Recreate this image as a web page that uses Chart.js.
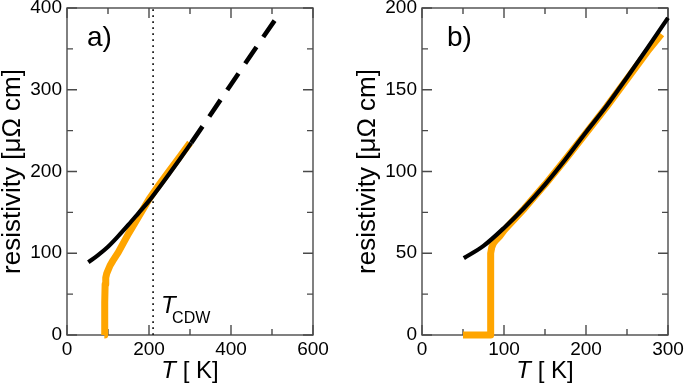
<!DOCTYPE html>
<html><head><meta charset="utf-8">
<script src="https://cdn.jsdelivr.net/npm/chart.js@4"></script>
<style>
html,body{margin:0;padding:0;background:#fff;}
#wrap{position:relative;width:685px;height:385px;overflow:hidden;background:#fff;}
canvas{position:absolute;top:0;}
</style></head><body>
<div id="wrap">
<canvas id="ca" width="342" height="385" style="left:0;width:342px;height:385px"></canvas>
<canvas id="cb" width="343" height="385" style="left:342px;width:343px;height:385px"></canvas>
</div>
<script>
// ---------- Panel a data ----------
const aXTicks = [0, 200, 400, 600];
const aYTicks = [0, 100, 200, 300, 400];
const aFitT  = [52, 75, 100, 125, 150, 175, 200, 225, 250, 275, 303];
const aFitR  = [89, 97.5, 108, 121, 135, 149.5, 164, 180.5, 197.5, 215, 235];
const aExtT  = [303, 350, 400, 450, 515];
const aExtR  = [235, 269.5, 306.5, 343.5, 391];
const aMeasT = [91, 92, 93, 94.5, 97, 100, 105, 112, 125, 137, 150, 175, 200, 225, 250, 275, 300];
const aMeasR = [0, 40, 62, 70, 75.5, 79, 85, 91, 101, 112, 124, 145, 166, 184, 201, 218, 235];
const aTcdw  = 210;
// ---------- Panel b data ----------
const bXTicks = [0, 100, 200, 300];
const bYTicks = [0, 50, 100, 150, 200];
const bFitT  = [51, 75, 100, 125, 150, 175, 200, 225, 250, 275, 300];
const bFitR  = [47, 54.5, 65.5, 78, 92, 107.5, 124, 140, 157.5, 175.5, 194];
const bMeasT = [50, 83.5, 83.5, 84, 85, 87, 90, 95, 100, 125, 150, 175, 200, 225, 250, 275, 292];
const bMeasR = [0, 0, 20, 50, 53.5, 56, 58, 60.5, 64, 77.5, 92, 107.5, 123.5, 139.5, 156.5, 173.5, 184];

const FONT = '"Liberation Sans", Arial, Helvetica, sans-serif';
const ORANGE = '#FFA500';
const TXT = '#000';

function pts(xs, ys){ return xs.map((v,i)=>({x:v, y:ys[i]})); }

const framePlugin = {
  id:'frame',
  beforeDatasetsDraw(chart, args, o){
    const {ctx, chartArea:a} = chart;
    const x = chart.scales.x, y = chart.scales.y;
    ctx.save();
    ctx.strokeStyle = '#4a4a4a';
    ctx.lineWidth = 1.4;
    ctx.strokeRect(a.left, a.top, a.right-a.left, a.bottom-a.top);
    ctx.beginPath();
    for(let v = x.min; v <= x.max + 1e-9; v += o.xMinor){
      const len = o.xMajor.includes(v) ? 10 : 6;
      const p = x.getPixelForValue(v);
      ctx.moveTo(p, a.bottom); ctx.lineTo(p, a.bottom - len);
      ctx.moveTo(p, a.top); ctx.lineTo(p, a.top + len);
    }
    for(let v = y.min; v <= y.max + 1e-9; v += o.yMinor){
      const len = o.yMajor.includes(v) ? 10 : 6;
      const p = y.getPixelForValue(v);
      ctx.moveTo(a.left, p); ctx.lineTo(a.left + len, p);
      ctx.moveTo(a.right, p); ctx.lineTo(a.right - len, p);
    }
    ctx.stroke();
    ctx.restore();
  }
};

const labelPlugin = {
  id:'labels',
  afterDraw(chart, args, o){
    const {ctx, chartArea:a} = chart;
    const x = chart.scales.x;
    ctx.save();
    ctx.fillStyle = TXT;
    ctx.textBaseline = 'alphabetic';
    ctx.textAlign = 'left';
    ctx.font = '28px ' + FONT;
    ctx.fillText(o.letter, a.left + o.letterDx, a.top + 38);
    // x axis title: italic T + " [ K]"
    const f1 = 'italic 24px ' + FONT, f2 = '24px ' + FONT;
    ctx.font = f1; const w1 = ctx.measureText('T').width;
    ctx.font = f2; const w2 = ctx.measureText(' [ K]').width;
    const sx = (a.left + a.right)/2 - (w1 + w2)/2;
    ctx.font = f1; ctx.fillText('T', sx, 378);
    ctx.font = f2; ctx.fillText(' [ K]', sx + w1, 378);
    if(o.tcdw != null){
      const px = x.getPixelForValue(o.tcdw);
      ctx.font = 'italic 24px ' + FONT;
      ctx.fillText('T', px + 8, 313);
      ctx.font = '16px ' + FONT;
      ctx.fillText('CDW', px + 19, 323);
    }
    ctx.restore();
  }
};

function makeChart(id, cfg){
  const yFitW = cfg.yWidth;
  return new Chart(document.getElementById(id), {
    type:'line',
    data:{ datasets: cfg.datasets },
    options:{
      responsive:false, animation:false, events:[],
      layout:{ padding:{ top:8, right:cfg.padRight, bottom:0, left:0 } },
      plugins:{
        legend:{display:false}, tooltip:{enabled:false},
        frame:{ xMinor:cfg.xMinor, yMinor:cfg.yMinor, xMajor:cfg.xTicks, yMajor:cfg.yTicks },
        labels:{ letter:cfg.letter, letterDx:cfg.letterDx, tcdw:cfg.tcdw }
      },
      elements:{ point:{ radius:0 } },
      scales:{
        x:{
          type:'linear', min:cfg.xTicks[0], max:cfg.xTicks[cfg.xTicks.length-1],
          grid:{display:false, drawTicks:false}, border:{display:false},
          afterBuildTicks:(s)=>{ s.ticks = cfg.xTicks.map(v=>({value:v})); },
          ticks:{ font:{family:FONT, size:19}, color:TXT, padding:3, maxRotation:0, autoSkip:false,
                  callback:(v)=>String(v) },
          afterFit:(s)=>{ s.height = 50; s.paddingLeft = 0; s.paddingRight = 0; s.paddingTop = 0; s.paddingBottom = 0; }
        },
        y:{
          type:'linear', min:cfg.yTicks[0], max:cfg.yTicks[cfg.yTicks.length-1],
          grid:{display:false, drawTicks:false}, border:{display:false},
          afterBuildTicks:(s)=>{ s.ticks = cfg.yTicks.map(v=>({value:v})); },
          ticks:{ font:{family:FONT, size:19}, color:TXT, padding:5, autoSkip:false,
                  callback:(v)=>String(v) },
          title:{ display:true, text:'resistivity [μΩ cm]', color:TXT,
                  font:{family:FONT, size:26, lineHeight:1}, padding:{top:cfg.titlePad, bottom:0} },
          afterFit:(s)=>{ s.width = yFitW; s.paddingLeft = 0; s.paddingRight = 0; s.paddingTop = 0; s.paddingBottom = 0; }
        }
      }
    },
    plugins:[framePlugin, labelPlugin]
  });
}

makeChart('ca', {
  xTicks:aXTicks, yTicks:aYTicks, xMinor:100, yMinor:50,
  yWidth:67, padRight:29, titlePad:0, letter:'a)', letterDx:20, tcdw:aTcdw,
  datasets:[
    { data:pts(aFitT, aFitR), borderColor:'#000', borderWidth:4.2, cubicInterpolationMode:'monotone',
      borderCapStyle:'butt', clip:false },
    { data:pts(aExtT, aExtR), borderColor:'#000', borderWidth:4.6, borderDash:[20,12],
      borderCapStyle:'butt', tension:0, clip:false },
    { data:pts(aMeasT, aMeasR), borderColor:ORANGE, borderWidth:7, tension:0,
      borderCapStyle:'butt', borderJoinStyle:'round', clip:false },
    { data:pts([aTcdw, aTcdw], [aYTicks[0], aYTicks[aYTicks.length-1]]), borderColor:'#222', borderWidth:1.8,
      borderDash:[1.8,4.2], tension:0, clip:false }
  ]
});

makeChart('cb', {
  xTicks:bXTicks, yTicks:bYTicks, xMinor:50, yMinor:25,
  yWidth:80, padRight:17, titlePad:13, letter:'b)', letterDx:25, tcdw:null,
  datasets:[
    { data:pts(bFitT, bFitR), borderColor:'#000', borderWidth:4.2, cubicInterpolationMode:'monotone',
      borderCapStyle:'butt', clip:false },
    { data:pts(bMeasT, bMeasR), borderColor:ORANGE, borderWidth:7, tension:0,
      borderCapStyle:'butt', borderJoinStyle:'round', clip:false }
  ]
});
</script>
</body></html>
